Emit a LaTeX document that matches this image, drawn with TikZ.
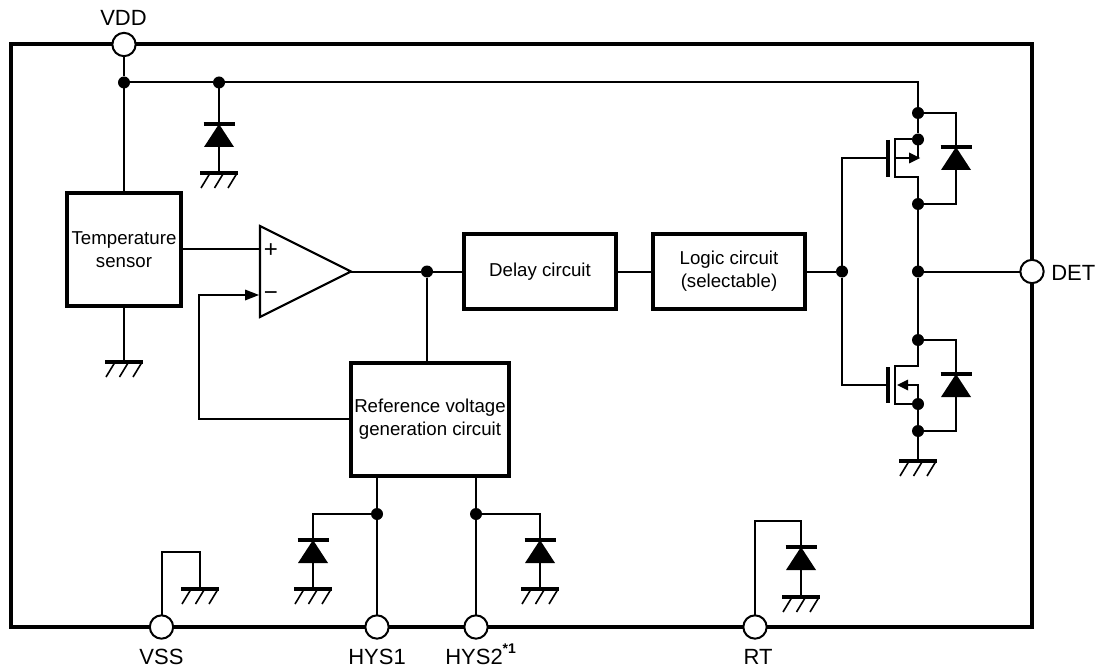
\documentclass[tikz,border=0pt]{standalone}
\usepackage{fontspec}
\setmainfont{Liberation Sans}
\begin{document}
\begin{tikzpicture}[x=0.75pt,y=-0.75pt,
  wire/.style={line width=1.5pt,draw=black,line join=miter},
  blk/.style={draw=black,line width=3pt,fill=white,inner sep=0pt,outer sep=0pt,align=center,font=\fontsize{14}{17.5}\selectfont},
  pin/.style={circle,draw=black,line width=1.5pt,fill=white,minimum size=17.5pt,inner sep=0pt,outer sep=0pt},
  dot/.style={circle,fill=black,minimum size=9pt,inner sep=0pt,outer sep=0pt},
  lab/.style={font=\fontsize{16.5}{18}\selectfont,inner sep=0pt},
  sign/.style={font=\fontsize{18}{18}\selectfont,inner sep=0pt},
  gnd/.pic={
    \draw[line width=2.4pt] (-19,0) -- (19,0);
    \foreach \t in {0,13.5,27} \draw[line width=1.2pt] (-9.5+\t,1) -- (-18+\t,15);
  },
  diode/.pic={
    \draw[line width=2.4pt] (-15.5,0) -- (15.5,0);
    \fill (0,0) -- (15,23) -- (-15,23) -- cycle;
  }]
\path[use as bounding box] (0,0) rectangle (1102,670);
% outline
\coordinate (tl) at (11,44.5);
\coordinate (br) at (1032,627);
\draw[line width=3pt] (tl) rectangle (br);
% pins
\node[pin] (vdd) at (124,44.5) {};
\node[pin] (det) at (1032,271.5) {};
\node[pin] (vss) at (161.5,627) {};
\node[pin] (hys1) at (377,627) {};
\node[pin] (hys2) at (476,627) {};
\node[pin] (rt) at (755,627) {};
\node[lab,anchor=base] (lvdd) at (123.5,26) {VDD};
\node[lab,anchor=base west] (ldet) at (1051,280) {DET};
\node[lab,anchor=base] (lvss) at (161.5,664) {VSS};
\node[lab,anchor=base] (lhys1) at (377,664) {HYS1};
\node[lab,anchor=base west] (lhys2) at (445,664) {HYS2\raisebox{8.25pt}{\fontsize{10.5}{11}\selectfont\bfseries *1}};
\node[lab,anchor=base] (lrt) at (758,664) {RT};
% blocks
\node[blk,minimum width=85.5pt,minimum height=84.75pt] (temp) at (124,249.5) {Temperature\\sensor};
\node[blk,minimum width=118.5pt,minimum height=84.75pt] (ref) at (430,419.5) {Reference voltage\\generation circuit};
\node[blk,minimum width=114pt,minimum height=56.25pt] (delay) at (540,271.5) {Delay circuit};
\node[blk,minimum width=114pt,minimum height=56.25pt] (logic) at (729,271.5) {Logic circuit\\(selectable)};
% opamp
\coordinate (oa) at (260,226);
\coordinate (ob) at (260,317);
\coordinate (oout) at (351,271.5);
\draw[line width=1.6pt,line join=miter] (oa) -- (oout) -- (ob) -- cycle;
\node[sign] (plus) at (271,251) {+};
\node[sign] (minus) at (271,296) {−};
% junctions
\node[dot] (j1) at (124,82.5) {};
\node[dot] (j2) at (219,82.5) {};
\node[dot] (j3) at (427,271.5) {};
\node[dot] (j4) at (842,271.5) {};
\node[dot] (j5) at (918,271.5) {};
\node[dot] (m1) at (918,113) {};
\node[dot] (m2) at (918,139.5) {};
\node[dot] (m3) at (918,204) {};
\node[dot] (m4) at (918,340) {};
\node[dot] (m5) at (918,404) {};
\node[dot] (m6) at (918,431) {};
\node[dot] (j6) at (377,514) {};
\node[dot] (j7) at (476,514) {};
% top wiring
\draw[wire] (vdd) -- (j1) -- (temp.north -| j1);
\draw[wire] (j1) -- (j2) -- (918,82.5) -- (m1);
\draw[wire,line width=2pt] (m1) -- (m2);
\coordinate (d0g) at (219,173);
\draw[wire] (j2) -- (d0g);
\pic at (219,124) {diode};
\pic at (d0g) {gnd};
% sensor
\coordinate (g1) at (124,362);
\draw[wire] (temp) -- (g1);
\pic at (g1) {gnd};
\draw[wire] (temp.east |- 0,249) -- (260,249);
\draw[wire] (ref.west |- 0,419) -- (199,419) -- (199,295) -- (250,295);
\fill (259,295) -- (245,289.5) -- (245,300.5) -- cycle;
% chain
\draw[wire] (oout) -- (j3) -- (delay);
\draw[wire] (j3) -- (ref.north -| j3);
\draw[wire] (delay) -- (logic);
\draw[wire] (logic) -- (j4);
% gate rail
\coordinate (gt) at (888,158);
\coordinate (gb) at (888,385);
\draw[wire] (gt) -- (842,158) -- (j4) -- (842,385) -- (gb);
% upper MOSFET
\draw[line width=3pt] (888,140) -- (888,177);
\draw[wire] (m2) -- (895,139.5) -- (895,177) -- (918,177) -- (m3);
\draw[wire] (895,158) -- (912,158);
\fill (920,158) -- (909,152.5) -- (909,163.5) -- cycle;
\draw[wire] (m2) -- (918,158);
\draw[wire] (m1) -- (956,113) -- (956,204) -- (m3);
\pic at (956,147) {diode};
% rail
\draw[wire] (m3) -- (j5) -- (m4);
\draw[wire] (j5) -- (det);
% lower MOSFET
\draw[line width=3pt] (888,367) -- (888,403);
\draw[wire] (m4) -- (918,366) -- (895,366) -- (895,404) -- (m5);
\draw[wire] (m5) -- (918,385) -- (905,385);
\fill (897,385) -- (908,379.5) -- (908,390.5) -- cycle;
\draw[wire] (m5) -- (m6);
\draw[wire] (m4) -- (956,340) -- (956,431) -- (m6);
\pic at (956,374) {diode};
\coordinate (g2) at (918,461);
\draw[wire] (m6) -- (g2);
\pic at (g2) {gnd};
% bottom
\draw[wire] (vss) -- (161.5,552) -- (200,552) -- (200,589);
\pic at (200,589) {gnd};
\draw[wire] (ref.south -| j6) -- (j6) -- (hys1);
\draw[wire] (ref.south -| j7) -- (j7) -- (hys2);
\draw[wire] (j6) -- (313,514) -- (313,589);
\pic at (313,540) {diode};
\pic at (313,589) {gnd};
\draw[wire] (j7) -- (540,514) -- (540,589);
\pic at (540,540) {diode};
\pic at (540,589) {gnd};
\draw[wire] (rt) -- (755,521) -- (801,521) -- (801,597);
\pic at (801,547) {diode};
\pic at (801,597) {gnd};
\end{tikzpicture}
\end{document}
